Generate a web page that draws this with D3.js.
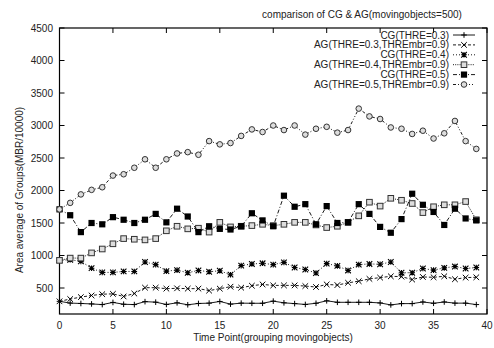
<!DOCTYPE html>
<html>
<head>
<meta charset="utf-8">
<script src="https://cdn.jsdelivr.net/npm/d3@7/dist/d3.min.js"></script>
<style>
  body { margin: 0; background: #fff; }
  svg text { font-family: "Liberation Sans", Arial, Helvetica, sans-serif; font-size: 10px; fill: #222; }
</style>
</head>
<body>
<svg id="chart" width="494" height="348"></svg>
<script>
// Time points on the x axis
const timePoints = [0,1,2,3,4,5,6,7,8,9,10,11,12,13,14,15,16,17,18,19,
                    20,21,22,23,24,25,26,27,28,29,30,31,32,33,34,35,36,37,38,39];

// Area average of groups (MBR/10000) per time point
const cgThre03 = [295,268,262,255,245,278,250,245,290,282,247,272,242,262,267,293,252,267,265,265,
                  298,272,260,247,265,303,280,280,280,280,270,240,260,260,285,265,285,267,267,245];
const agThre03 = [295,330,360,385,405,410,370,415,505,505,490,495,490,490,460,490,520,505,535,555,
                  540,540,540,530,515,555,545,580,605,640,660,680,675,630,670,665,680,635,660,665];
const cgThre04 = [925,935,910,805,740,740,755,755,900,860,760,775,735,770,750,765,705,845,870,880,
                  860,895,815,785,730,875,840,770,860,870,865,900,735,735,800,775,810,830,800,815];
const agThre04 = [925,960,960,1040,1100,1180,1260,1250,1240,1260,1380,1450,1410,1420,1360,1510,1440,1450,1460,1480,
                  1460,1480,1510,1510,1470,1430,1450,1510,1610,1820,1760,1880,1850,1800,1660,1750,1780,1780,1830,1550];
const cgThre05 = [1710,1620,1360,1500,1480,1590,1550,1500,1550,1640,1510,1720,1600,1360,1450,1410,1400,1450,1650,1540,
                  1450,1920,1750,1790,1480,1760,1500,1510,1790,1640,1440,1350,1560,1950,1780,1670,1470,1720,1570,1540];
const agThre05 = [1710,1810,1940,2010,2050,2230,2250,2350,2480,2350,2480,2570,2590,2550,2760,2710,2730,2840,2940,2900,
                  3000,2930,3000,2860,2950,2980,2890,2930,3260,3140,3100,2970,2950,2870,2920,2800,2880,3070,2760,2640];

const seriesNames = ["CG(THRE=0.3)", "AG(THRE=0.3,THREmbr=0.9)", "CG(THRE=0.4)",
                     "AG(THRE=0.4,THREmbr=0.9)", "CG(THRE=0.5)", "AG(THRE=0.5,THREmbr=0.9)"];
const seriesValues = [cgThre03, agThre03, cgThre04, agThre04, cgThre05, agThre05];

const xTicks = [0,5,10,15,20,25,30,35,40];
const yTicks = [500,1000,1500,2000,2500,3000,3500,4000,4500];

const titleText = "comparison of CG & AG(movingobjects=500)";
const xLabel = "Time Point(grouping movingobjects)";
const yLabel = "Area average of Groups(MBR/10000)";

// Per-series look: line dash and point glyph
const styles = [
  { dash: null,            marker: "plus" },
  { dash: "3,2",           marker: "cross" },
  { dash: "1,2",           marker: "star" },
  { dash: "1,1.2",         marker: "openSquare" },
  { dash: "4,2,1,2",       marker: "filledSquare" },
  { dash: "3,2,1,2,1,2",   marker: "openCircle" }
];

const svg = d3.select("#chart");
const plot = { left: 59.5, right: 487, top: 28, bottom: 314 };

const x = d3.scaleLinear().domain([0, 40]).range([plot.left, plot.right]);
const y = d3.scaleLinear().domain([100, 4500]).range([plot.bottom, plot.top]);

// Ticks (inward, mirrored on opposite sides)
const tickLen = 5;
const axisG = svg.append("g").attr("stroke", "#000").attr("stroke-width", 1);
xTicks.forEach(t => {
  axisG.append("line").attr("x1", x(t)).attr("x2", x(t)).attr("y1", plot.bottom).attr("y2", plot.bottom - tickLen);
  axisG.append("line").attr("x1", x(t)).attr("x2", x(t)).attr("y1", plot.top).attr("y2", plot.top + tickLen);
});
yTicks.forEach(t => {
  axisG.append("line").attr("x1", plot.left).attr("x2", plot.left + tickLen).attr("y1", y(t)).attr("y2", y(t));
  axisG.append("line").attr("x1", plot.right).attr("x2", plot.right - tickLen).attr("y1", y(t)).attr("y2", y(t));
});

// Tick labels
svg.append("g").selectAll("text").data(xTicks).join("text")
  .attr("x", d => x(d)).attr("y", 329).attr("text-anchor", "middle").text(d => d);
svg.append("g").selectAll("text").data(yTicks).join("text")
  .attr("x", 53).attr("y", d => y(d) + 3.5).attr("text-anchor", "end").text(d => d);

// Frame
svg.append("rect")
  .attr("x", plot.left).attr("y", plot.top)
  .attr("width", plot.right - plot.left).attr("height", plot.bottom - plot.top)
  .attr("fill", "none").attr("stroke", "#000").attr("stroke-width", 1.2);

// Titles
svg.append("text").attr("x", 362).attr("y", 18).attr("text-anchor", "middle").text(titleText);
svg.append("text").attr("x", 273).attr("y", 341).attr("text-anchor", "middle").text(xLabel);
svg.append("text").attr("transform", "translate(23,190) rotate(-90)").attr("text-anchor", "middle").text(yLabel);

// Point glyphs
function drawMarker(g, kind, cx, cy) {
  const s = 2.8;
  if (kind === "plus") {
    g.append("path").attr("d", `M${cx - s},${cy}H${cx + s}M${cx},${cy - s}V${cy + s}`)
      .attr("stroke", "#000").attr("stroke-width", 1).attr("fill", "none");
  } else if (kind === "cross") {
    g.append("path").attr("d", `M${cx - s},${cy - s}L${cx + s},${cy + s}M${cx - s},${cy + s}L${cx + s},${cy - s}`)
      .attr("stroke", "#000").attr("stroke-width", 1).attr("fill", "none");
  } else if (kind === "star") {
    g.append("path").attr("d", `M${cx - s},${cy}H${cx + s}M${cx},${cy - s}V${cy + s}M${cx - s},${cy - s}L${cx + s},${cy + s}M${cx - s},${cy + s}L${cx + s},${cy - s}`)
      .attr("stroke", "#000").attr("stroke-width", 1.1).attr("fill", "none");
  } else if (kind === "openSquare") {
    g.append("rect").attr("x", cx - s).attr("y", cy - s).attr("width", 2 * s).attr("height", 2 * s)
      .attr("stroke", "#333").attr("stroke-width", 1).attr("fill", "#ddd");
  } else if (kind === "filledSquare") {
    g.append("rect").attr("x", cx - s - 0.3).attr("y", cy - s - 0.3).attr("width", 2 * s + 0.6).attr("height", 2 * s + 0.6)
      .attr("fill", "#000");
  } else if (kind === "openCircle") {
    g.append("circle").attr("cx", cx).attr("cy", cy).attr("r", s)
      .attr("stroke", "#333").attr("stroke-width", 1).attr("fill", "#ddd");
  }
}

const line = d3.line().x(d => x(d[0])).y(d => y(d[1]));

seriesValues.forEach((vals, k) => {
  const pts = timePoints.map((t, i) => [t, vals[i]]);
  const g = svg.append("g");
  g.append("path").attr("d", line(pts))
    .attr("fill", "none").attr("stroke", "#000").attr("stroke-width", 0.9)
    .attr("stroke-dasharray", styles[k].dash);
  pts.forEach(p => drawMarker(g, styles[k].marker, x(p[0]), y(p[1])));
});

// Legend
const legendTop = 35, legendStep = 9.9;
seriesNames.forEach((name, k) => {
  const cy = legendTop + k * legendStep;
  const g = svg.append("g");
  g.append("text").attr("x", 449).attr("y", cy + 3.5).attr("text-anchor", "end").text(name);
  g.append("line").attr("x1", 453).attr("x2", 475).attr("y1", cy).attr("y2", cy)
    .attr("stroke", "#000").attr("stroke-width", 0.9).attr("stroke-dasharray", styles[k].dash);
  drawMarker(g, styles[k].marker, 464, cy);
});
</script>
</body>
</html>
